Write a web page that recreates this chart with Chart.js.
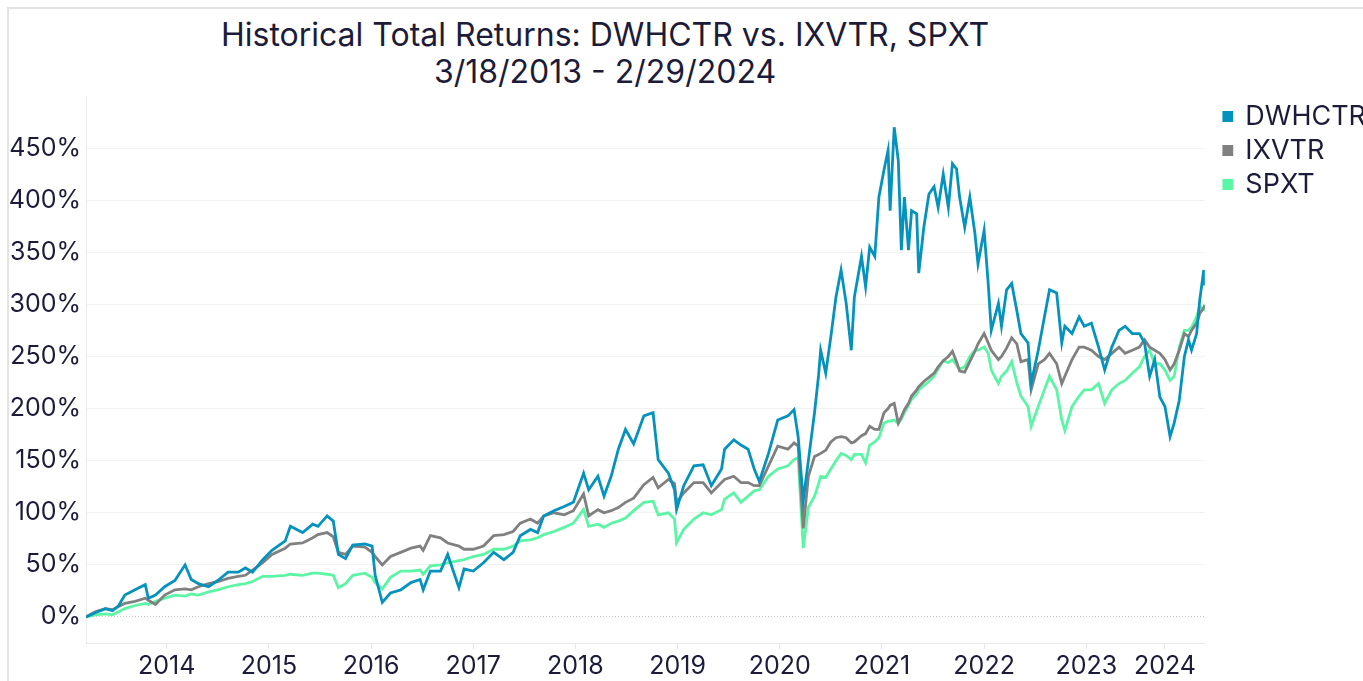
<!DOCTYPE html>
<html>
<head>
<meta charset="utf-8">
<title>Historical Total Returns</title>
<script src="https://cdn.jsdelivr.net/npm/chart.js@4.4.1/dist/chart.umd.min.js"></script>
<style>
  html, body { margin: 0; padding: 0; background: #fff; overflow: hidden; }
  body { width: 1363px; height: 681px; position: relative; }
  .frame { position: absolute; left: 7px; top: 7px; width: 1600px; height: 900px; border: 2px solid #e3e3e3; }
  .title { position: absolute; left: 0; top: 16px; width: 1210px; text-align: center;
           font: 32px/37px Inter, sans-serif; color: #1c1c3a; }
  #chart { position: absolute; left: 0; top: 0; }
</style>
</head>
<body>
<div class="frame"></div>
<div class="title">Historical Total Returns: DWHCTR vs. IXVTR, SPXT<br>3/18/2013 - 2/29/2024</div>
<canvas id="chart" width="1500" height="681"></canvas>
<script>
// dates as decimal years, 3/18/2013 -> 2/29/2024
const dates = [
  2013.21, 2013.30, 2013.40, 2013.47, 2013.53, 2013.59, 2013.69, 2013.79, 2013.82, 2013.89,
  2013.98, 2014.08, 2014.18, 2014.24, 2014.31, 2014.41, 2014.50, 2014.60, 2014.70, 2014.77,
  2014.84, 2014.94, 2015.03, 2015.16, 2015.21, 2015.33, 2015.43, 2015.48, 2015.57, 2015.63,
  2015.68, 2015.75, 2015.82, 2015.94, 2016.01, 2016.04, 2016.11, 2016.19, 2016.29, 2016.39,
  2016.48, 2016.51, 2016.58, 2016.68, 2016.75, 2016.86, 2016.91, 2017.00, 2017.10, 2017.20,
  2017.30, 2017.39, 2017.46, 2017.56, 2017.63, 2017.69, 2017.79, 2017.89, 2017.98, 2018.08,
  2018.13, 2018.22, 2018.28, 2018.35, 2018.42, 2018.49, 2018.57, 2018.67, 2018.76, 2018.81,
  2018.91, 2018.97, 2018.99, 2019.06, 2019.16, 2019.25, 2019.33, 2019.43, 2019.46, 2019.55,
  2019.62, 2019.69, 2019.75, 2019.80, 2019.89, 2019.98, 2020.08, 2020.14, 2020.18, 2020.23,
  2020.28, 2020.34, 2020.38, 2020.40, 2020.45, 2020.50, 2020.55, 2020.60, 2020.65, 2020.70,
  2020.73, 2020.80, 2020.84, 2020.88, 2020.93, 2020.97, 2021.02, 2021.06, 2021.08, 2021.12,
  2021.16, 2021.19, 2021.22, 2021.26, 2021.29, 2021.34, 2021.36, 2021.41, 2021.46, 2021.51,
  2021.55, 2021.60, 2021.65, 2021.69, 2021.73, 2021.76, 2021.81, 2021.86, 2021.91, 2021.94,
  2022.00, 2022.04, 2022.07, 2022.14, 2022.17, 2022.22, 2022.27, 2022.32, 2022.36, 2022.43,
  2022.46, 2022.53, 2022.59, 2022.64, 2022.71, 2022.76, 2022.79, 2022.86, 2022.93, 2022.98,
  2023.05, 2023.12, 2023.18, 2023.25, 2023.32, 2023.38, 2023.45, 2023.52, 2023.57, 2023.62,
  2023.67, 2023.72, 2023.77, 2023.82, 2023.86, 2023.91, 2023.96, 2024.00, 2024.03, 2024.08,
  2024.11, 2024.15, 2024.16
];

// total return, %
const dwhctr = [
  0, 4, 8, 6, 11, 21, 26, 31, 18, 21,
  29, 35, 50, 36, 32, 29, 35, 43, 43, 47,
  43, 55, 64, 73, 87, 81, 89, 87, 97, 92,
  60, 56, 69, 70, 68, 40, 14, 23, 26, 33,
  36, 26, 44, 44, 60, 28, 46, 44, 52, 62,
  55, 62, 78, 84, 81, 97, 102, 106, 110, 138,
  122, 135, 116, 135, 161, 180, 166, 193, 196, 151,
  138, 122, 103, 126, 145, 146, 126, 142, 161, 170,
  165, 161, 142, 130, 157, 189, 193, 199, 173, 112,
  150, 196, 232, 256, 234, 269, 307, 333, 301, 256,
  307, 346, 317, 355, 346, 403, 429, 448, 390, 470,
  438, 352, 403, 352, 390, 387, 330, 374, 406, 413,
  393, 425, 393, 435, 430, 403, 374, 403, 368, 339,
  371, 320, 275, 301, 279, 314, 320, 294, 272, 263,
  224, 256, 288, 314, 311, 263, 279, 272, 288, 279,
  282, 259, 237, 259, 275, 279, 272, 272, 263, 231,
  247, 211, 202, 173, 186, 208, 250, 266, 256, 272,
  304, 333, 318
];

const ixvtr = [
  0, 5, 8, 7, 10, 13, 15, 18, 16, 12,
  21, 26, 27, 26, 29, 32, 34, 37, 39, 40,
  45, 52, 60, 66, 70, 71, 76, 79, 81, 77,
  62, 60, 68, 67, 62, 58, 50, 58, 62, 66,
  68, 64, 78, 76, 71, 68, 65, 65, 68, 78,
  79, 82, 90, 94, 90, 97, 100, 98, 102, 118,
  97, 103, 100, 102, 105, 110, 114, 127, 134, 124,
  132, 128, 110, 119, 129, 129, 119, 129, 132, 135,
  129, 129, 126, 126, 145, 164, 161, 167, 164, 85,
  135, 154, 156, 157, 160, 168, 172, 173, 172, 167,
  168, 174, 176, 183, 180, 180, 196, 200, 203, 205,
  186, 192, 199, 205, 212, 218, 221, 226, 230, 234,
  240, 246, 250, 255, 245, 236, 235, 245, 255, 262,
  272, 263, 256, 247, 250, 258, 268, 262, 245, 247,
  218, 243, 247, 253, 243, 224, 231, 247, 259, 259,
  256, 250, 247, 253, 259, 253, 256, 259, 266, 259,
  256, 253, 247, 237, 243, 256, 272, 269, 275, 282,
  291, 297, 299
];

const spxt = [
  0, 2, 3, 2, 5, 8, 11, 13, 12, 15,
  18, 21, 20, 22, 21, 24, 26, 29, 31, 32,
  34, 39, 39, 40, 41, 40, 42, 42, 41, 40,
  28, 32, 40, 42, 38, 33, 27, 38, 44, 44,
  45, 41, 49, 50, 52, 54, 55, 58, 60, 65,
  65, 68, 73, 74, 76, 79, 82, 86, 90, 103,
  87, 89, 86, 90, 92, 95, 102, 110, 111, 98,
  100, 94, 71, 84, 94, 100, 98, 103, 113, 119,
  110, 116, 121, 122, 135, 142, 145, 151, 153, 66,
  105, 116, 128, 135, 134, 142, 150, 157, 155, 151,
  156, 156, 148, 165, 168, 172, 186, 188, 188, 189,
  186, 190, 196, 203, 209, 214, 218, 222, 226, 231,
  238, 246, 244, 247, 242, 238, 240, 250, 256, 256,
  259, 253, 237, 224, 231, 236, 245, 225, 212, 202,
  183, 202, 218, 231, 218, 189, 179, 202, 212, 218,
  218, 224, 205, 218, 224, 227, 234, 240, 250, 256,
  243, 243, 237, 227, 231, 259, 275, 275, 278, 288,
  298, 295, 300
];

const yTicks = [0, 50, 100, 150, 200, 250, 300, 350, 400, 450];
const xTickYears = [2014, 2015, 2016, 2017, 2018, 2019, 2020, 2021, 2022, 2023, 2024];

const textColor = '#1c1c3a';
const fontFamily = 'Inter';

function series(values) {
  return values.map((v, i) => ({ x: dates[i], y: v }));
}

new Chart(document.getElementById('chart'), {
  type: 'line',
  data: {
    datasets: [
      { label: 'DWHCTR', data: series(dwhctr), borderColor: '#0592bd', backgroundColor: '#0592bd' },
      { label: 'IXVTR', data: series(ixvtr), borderColor: '#808080', backgroundColor: '#808080' },
      { label: 'SPXT', data: series(spxt), borderColor: '#5cf5a5', backgroundColor: '#5cf5a5' }
    ]
  },
  options: {
    responsive: false,
    animation: false,
    layout: { padding: { top: 96, right: 124, bottom: 0, left: 0 } },
    elements: {
      line: { borderWidth: 2.8, tension: 0 },
      point: { radius: 0 }
    },
    plugins: {
      tooltip: { enabled: false },
      legend: {
        position: 'right',
        align: 'start',
        labels: {
          boxWidth: 8, boxHeight: 8, padding: 7,
          color: textColor,
          font: { family: fontFamily, size: 27 }
        }
      }
    },
    scales: {
      x: {
        type: 'linear',
        min: 2013.21,
        max: 2024.16,
        afterBuildTicks: axis => {
          // last year label is pulled inside the plot, like the original
          axis.ticks = xTickYears.map(y => ({ value: Math.min(y, axis.max - 0.39) }));
        },
        afterFit: axis => { axis.height = 38; },
        grid: { drawOnChartArea: false, drawTicks: true, tickLength: 6, color: '#e6e6e6' },
        border: { color: '#e8e8e8' },
        ticks: {
          autoSkip: false, maxRotation: 0, padding: 2,
          color: textColor,
          font: { family: fontFamily, size: 25 },
          callback: (v, i) => String(xTickYears[i])
        }
      },
      y: {
        min: -25,
        max: 500,
        afterBuildTicks: axis => { axis.ticks = yTicks.map(v => ({ value: v })); },
        afterFit: axis => { axis.width = 86; },
        grid: {
          drawTicks: false,
          color: ctx => (ctx.tick && ctx.tick.value === 0) ? '#c4c4c4' : '#f1f1f1'
        },
        border: {
          color: '#ebebeb',
          dash: ctx => (ctx.tick && ctx.tick.value === 0) ? [1, 2] : []
        },
        ticks: {
          padding: 5,
          color: textColor,
          font: { family: fontFamily, size: 25 },
          callback: v => v + '%'
        }
      },
      gap: {
        type: 'linear',
        axis: 'y',
        position: 'right',
        grid: { display: false },
        border: { display: false },
        ticks: { display: false },
        afterFit: axis => { axis.width = 12; }
      }
    }
  }
});
</script>
</body>
</html>
